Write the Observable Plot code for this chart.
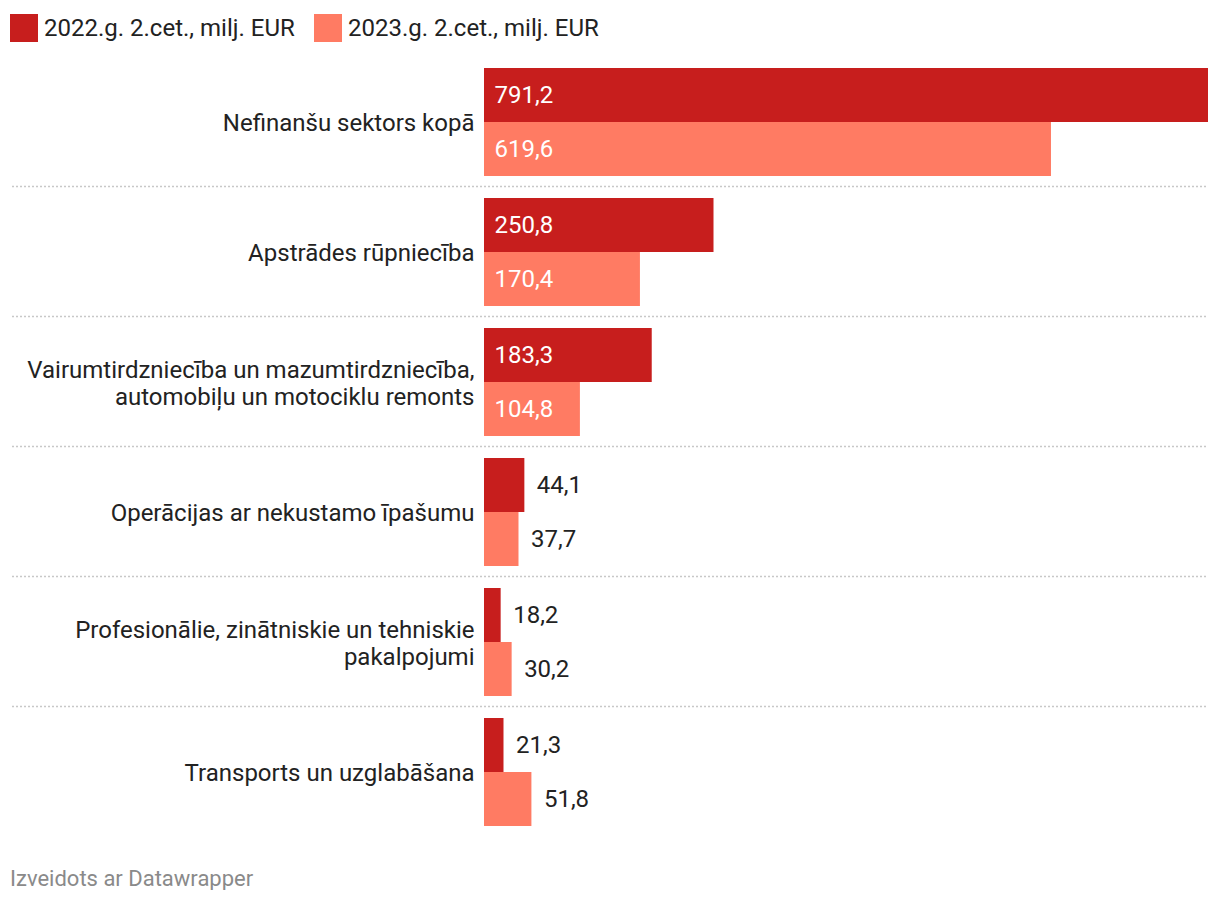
<!DOCTYPE html>
<html>
<head>
<meta charset="utf-8">
<script src="https://cdn.jsdelivr.net/npm/d3@7"></script>
<script src="https://cdn.jsdelivr.net/npm/@observablehq/plot@0.6"></script>
<style>
  body { margin: 0; background: #fff; font-family: Roboto, sans-serif; color: #222; }
  #legend { height: 56px; position: relative; }
  .item { position: absolute; top: 14px; display: flex; align-items: center; font-size: 24px; line-height: 28px; white-space: nowrap; }
  .sw { width: 28px; height: 28px; margin-right: 6px; }
  #footer { margin-top: 22px; margin-left: 10px; font-size: 22px; line-height: 22px; color: #8a8a8a; }
  svg { display: block; }
</style>
</head>
<body>
<div id="legend"></div>
<div id="chart"></div>
<div id="footer">Izveidots ar Datawrapper</div>
<script>
const categories = [
  "Nefinanšu sektors kopā",
  "Apstrādes rūpniecība",
  "Vairumtirdzniecība un mazumtirdzniecība,\nautomobiļu un motociklu remonts",
  "Operācijas ar nekustamo īpašumu",
  "Profesionālie, zinātniskie un tehniskie\npakalpojumi",
  "Transports un uzglabāšana"
];
const series = ["2022.g. 2.cet., milj. EUR", "2023.g. 2.cet., milj. EUR"];
const values2022 = [791.2, 250.8, 183.3, 44.1, 18.2, 21.3];
const values2023 = [619.6, 170.4, 104.8, 37.7, 30.2, 51.8];
const colors = ["#c71e1d", "#ff7b63"];
const legendLeft = [10, 314];

const rows = [];
categories.forEach((c, i) => {
  rows.push({cat: c, s: series[0], v: values2022[i]});
  rows.push({cat: c, s: series[1], v: values2023[i]});
});
const fmt = v => v.toFixed(1).replace(".", ",");
const insideThreshold = 80;

// legend
const legend = document.getElementById("legend");
series.forEach((s, i) => {
  const it = document.createElement("div");
  it.className = "item";
  it.style.left = legendLeft[i] + "px";
  it.innerHTML = `<span class="sw" style="background:${colors[i]}"></span><span>${s}</span>`;
  legend.appendChild(it);
});

const chart = Plot.plot({
  width: 1220,
  height: 790,
  marginTop: 1,
  marginBottom: 9,
  marginLeft: 12,
  marginRight: 12,
  style: {fontFamily: "Roboto, sans-serif", fontSize: "24px", background: "#fff"},
  x: {domain: [0, d3.max([...values2022, ...values2023])], range: [484, 1208], axis: null},
  y: {domain: series, axis: null, padding: 0, insetTop: 11, insetBottom: 11},
  fy: {domain: categories, axis: null, padding: 0},
  color: {domain: series, range: colors},
  marks: [
    Plot.ruleY(categories.slice(0, -1), {
      fy: d => d, y: () => series[1], dy: 37,
      stroke: "#c8c8c8", strokeWidth: 1.5, strokeDasharray: "2,2"
    }),
    Plot.barX(rows, {x: "v", y: "s", fy: "cat", fill: "s"}),
    Plot.text(rows.filter(d => d.v >= insideThreshold), {
      x: () => 0, y: "s", fy: "cat", text: d => fmt(d.v),
      textAnchor: "start", dx: 10, fill: "#fff", fontSize: 24
    }),
    Plot.text(rows.filter(d => d.v < insideThreshold), {
      x: "v", y: "s", fy: "cat", text: d => fmt(d.v),
      textAnchor: "start", dx: 12, fill: "#222", fontSize: 24
    }),
    Plot.text(categories, {
      fy: d => d, x: () => 0, text: d => d,
      textAnchor: "end", dx: -10, fill: "#222", fontSize: 24, lineHeight: 1.125
    })
  ]
});
document.getElementById("chart").appendChild(chart);
</script>
</body>
</html>
